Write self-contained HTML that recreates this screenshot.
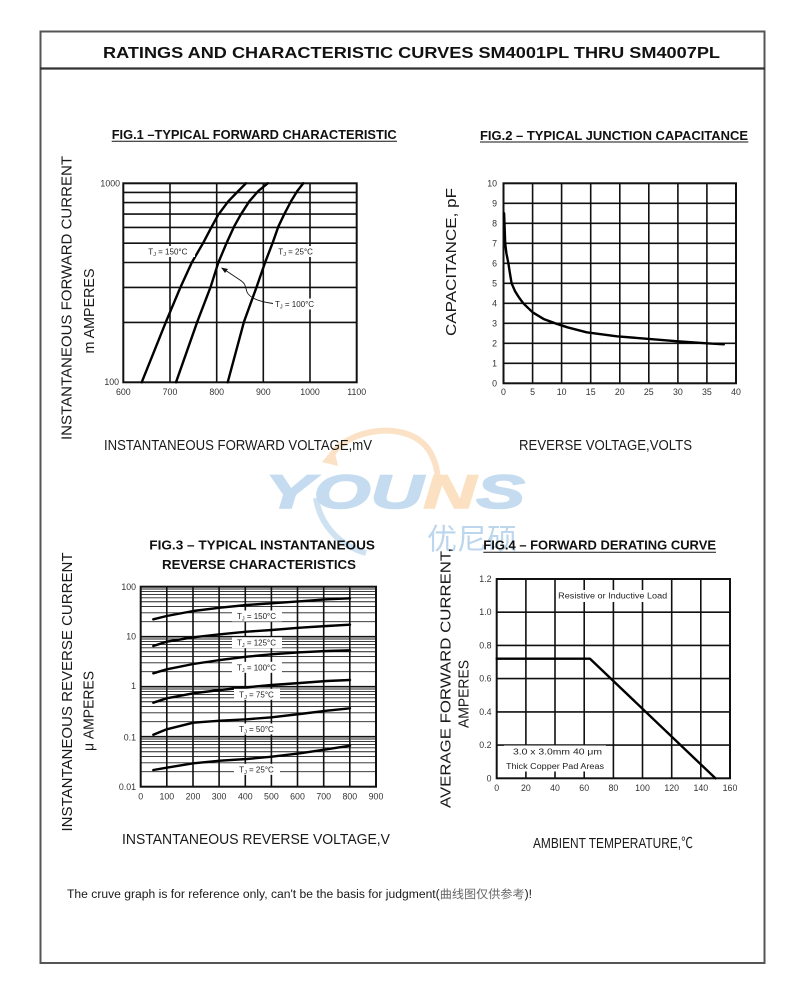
<!DOCTYPE html>
<html><head><meta charset="utf-8"><style>
html,body{margin:0;padding:0;background:#fff}
svg{display:block}
text{font-family:"Liberation Sans","Noto Sans CJK SC",sans-serif;fill:#111}
.t{font-size:8.8px;fill:#333}
.r{text-anchor:end}
.m{text-anchor:middle}
.g{stroke:#111;stroke-width:1.6;fill:none}
.gf{stroke:#222;stroke-width:0.9;fill:none}
.c{stroke:#000;stroke-width:2.4;fill:none;stroke-linejoin:round;stroke-linecap:round}
.ft{font-weight:bold;font-size:13px}
.al{font-size:14.5px;fill:#1a1a1a}
.lb{font-size:8px;fill:#222}
</style></head><body>
<svg width="790" height="988" viewBox="0 0 790 988" xmlns="http://www.w3.org/2000/svg">
<rect x="0" y="0" width="790" height="988" fill="#fff"/>
<!-- outer frame -->
<rect x="40.5" y="31.5" width="724" height="931.5" fill="none" stroke="#555" stroke-width="2"/>
<line x1="40" y1="68.5" x2="765" y2="68.5" stroke="#333" stroke-width="2.2"/>
<text x="103" y="57.8" font-size="15.5" font-weight="bold" textLength="617" lengthAdjust="spacingAndGlyphs">RATINGS AND CHARACTERISTIC CURVES SM4001PL THRU SM4007PL</text>

<!-- watermark -->
<g>
<path d="M330,458 C345,428 410,418 430,452 C437,464 439,478 437,492" stroke="#fbe2c6" stroke-width="6" fill="none"/>
<path d="M322,462 L334,448 L338,466 Z" fill="#fbe2c6"/>
<path d="M316,498 C320,524 338,545 366,553" stroke="#cfe2f2" stroke-width="6" fill="none"/>
<text x="265" y="508" font-size="47" font-weight="bold" font-style="italic" textLength="260" lengthAdjust="spacingAndGlyphs" stroke="#c4dbf0" stroke-width="1.5" style="fill:#c4dbf0"><tspan style="fill:#c4dbf0">YOU</tspan><tspan style="fill:#fbe0c2" stroke="#fbe0c2">N</tspan><tspan style="fill:#c4dbf0">S</tspan></text>
<text x="427" y="549" font-size="29" textLength="90" lengthAdjust="spacingAndGlyphs" style="fill:#bcd6ee;font-family:'Noto Sans CJK SC',sans-serif">优尼硕</text>
</g>

<!-- ================= FIG 1 ================= -->
<text x="111.7" y="138.8" class="ft" textLength="285" lengthAdjust="spacingAndGlyphs">FIG.1 –TYPICAL FORWARD CHARACTERISTIC</text>
<line x1="111.7" y1="141.3" x2="397" y2="141.3" stroke="#111" stroke-width="1"/>
<g class="g">
<line x1="170" y1="183.3" x2="170" y2="382.3"/>
<line x1="216.7" y1="183.3" x2="216.7" y2="382.3"/>
<line x1="263.3" y1="183.3" x2="263.3" y2="382.3"/>
<line x1="310" y1="183.3" x2="310" y2="382.3"/>
<line x1="123.3" y1="322.4" x2="356.7" y2="322.4"/>
<line x1="123.3" y1="287.4" x2="356.7" y2="287.4"/>
<line x1="123.3" y1="262.5" x2="356.7" y2="262.5"/>
<line x1="123.3" y1="243.2" x2="356.7" y2="243.2"/>
<line x1="123.3" y1="227.4" x2="356.7" y2="227.4"/>
<line x1="123.3" y1="214.1" x2="356.7" y2="214.1"/>
<line x1="123.3" y1="202.6" x2="356.7" y2="202.6"/>
<line x1="123.3" y1="192.4" x2="356.7" y2="192.4"/>
</g>
<rect x="123.3" y="183.3" width="233.4" height="199" fill="none" stroke="#111" stroke-width="2"/>
<polyline class="c" points="141.7,382.3 166,321.7 180.7,286.7 191.7,262.7 203.3,242.7 211.7,226.7 218.3,214.7 228.3,201.3 238.3,191 246,183.3"/>
<polyline class="c" points="176,382.3 197.3,321.7 210.7,286.7 218.3,262.7 226.7,242.7 234,226.7 240.7,214.7 249.3,201.3 258.3,191 267.7,183.3"/>
<polyline class="c" points="227.7,382.3 244,321.7 256.7,286.7 265,262.7 272.7,242.7 278.3,226.7 284,214.7 291,201.3 297.3,191 303.3,183.3"/>
<rect x="146" y="246" width="49" height="11" fill="#fff"/>
<text x="148.3" y="254.5" class="lb">T<tspan font-size="5.5" dy="1.5">J</tspan><tspan dy="-1.5"> = 150°C</tspan></text>
<rect x="276" y="246" width="44" height="11" fill="#fff"/>
<text x="278.3" y="254.5" class="lb">T<tspan font-size="5.5" dy="1.5">J</tspan><tspan dy="-1.5"> = 25°C</tspan></text>
<rect x="273" y="298.5" width="47" height="11" fill="#fff"/>
<text x="275" y="307" class="lb">T<tspan font-size="5.5" dy="1.5">J</tspan><tspan dy="-1.5"> = 100°C</tspan></text>
<path d="M273,303.5 C262,302 250,299 247,292 C245,286 246,284 240,280 L225,270" stroke="#111" stroke-width="0.9" fill="none"/>
<path d="M221,267.5 L228,269 L225,273 Z" fill="#111"/>
<text x="120" y="186.3" class="t r">1000</text>
<text x="119" y="384.8" class="t r">100</text>
<g>
<text x="123.3" y="395" class="t m">600</text>
<text x="170" y="395" class="t m">700</text>
<text x="216.7" y="395" class="t m">800</text>
<text x="263.3" y="395" class="t m">900</text>
<text x="310" y="395" class="t m">1000</text>
<text x="356.7" y="395" class="t m">1100</text>
</g>
<text x="71.5" y="298" class="al m" transform="rotate(-90 71.5 298)" textLength="284" lengthAdjust="spacingAndGlyphs">INSTANTANEOUS FORWARD CURRENT</text>
<text x="94" y="311" class="al m" transform="rotate(-90 94 311)" textLength="85" lengthAdjust="spacingAndGlyphs">m AMPERES</text>
<text x="104" y="450" class="al" textLength="268" lengthAdjust="spacingAndGlyphs">INSTANTANEOUS FORWARD VOLTAGE,mV</text>

<!-- ================= FIG 2 ================= -->
<text x="480" y="139.8" class="ft" textLength="268" lengthAdjust="spacingAndGlyphs">FIG.2 – TYPICAL JUNCTION CAPACITANCE</text>
<line x1="480" y1="142" x2="748.3" y2="142" stroke="#111" stroke-width="1"/>
<g class="g">
<line x1="532.6" y1="183.3" x2="532.6" y2="383.3"/>
<line x1="561.6" y1="183.3" x2="561.6" y2="383.3"/>
<line x1="590.7" y1="183.3" x2="590.7" y2="383.3"/>
<line x1="619.8" y1="183.3" x2="619.8" y2="383.3"/>
<line x1="648.8" y1="183.3" x2="648.8" y2="383.3"/>
<line x1="677.9" y1="183.3" x2="677.9" y2="383.3"/>
<line x1="706.9" y1="183.3" x2="706.9" y2="383.3"/>
<line x1="503.5" y1="203.3" x2="736" y2="203.3"/>
<line x1="503.5" y1="223.3" x2="736" y2="223.3"/>
<line x1="503.5" y1="243.3" x2="736" y2="243.3"/>
<line x1="503.5" y1="263.3" x2="736" y2="263.3"/>
<line x1="503.5" y1="283.3" x2="736" y2="283.3"/>
<line x1="503.5" y1="303.3" x2="736" y2="303.3"/>
<line x1="503.5" y1="323.3" x2="736" y2="323.3"/>
<line x1="503.5" y1="343.3" x2="736" y2="343.3"/>
<line x1="503.5" y1="363.3" x2="736" y2="363.3"/>
</g>
<rect x="503.5" y="183.3" width="232.5" height="200" fill="none" stroke="#111" stroke-width="2"/>
<polyline class="c" stroke-width="2" points="504.1,213.3 505.2,243.3 506.4,253.3 508.4,263.3 509.6,271.3 511.6,283.3 515.1,291.3 519,297.5 523.3,303.3 532.6,312.3 544.2,319.3 555.2,323.3 567.4,327.3 586.6,332.3 616.8,336.3 648.8,338.9 677.9,341.3 706.9,343.3 723.8,344.3"/>
<g>
<text x="497" y="186.3" class="t r">10</text>
<text x="497" y="206.3" class="t r">9</text>
<text x="497" y="226.3" class="t r">8</text>
<text x="497" y="246.3" class="t r">7</text>
<text x="497" y="266.3" class="t r">6</text>
<text x="497" y="286.3" class="t r">5</text>
<text x="497" y="306.3" class="t r">4</text>
<text x="497" y="326.3" class="t r">3</text>
<text x="497" y="346.3" class="t r">2</text>
<text x="497" y="366.3" class="t r">1</text>
<text x="497" y="386.3" class="t r">0</text>
<text x="503.5" y="395" class="t m">0</text>
<text x="532.6" y="395" class="t m">5</text>
<text x="561.6" y="395" class="t m">10</text>
<text x="590.7" y="395" class="t m">15</text>
<text x="619.8" y="395" class="t m">20</text>
<text x="648.8" y="395" class="t m">25</text>
<text x="677.9" y="395" class="t m">30</text>
<text x="706.9" y="395" class="t m">35</text>
<text x="736" y="395" class="t m">40</text>
</g>
<text x="456" y="262" class="al m" transform="rotate(-90 456 262)" textLength="148" lengthAdjust="spacingAndGlyphs">CAPACITANCE, pF</text>
<text x="519" y="450" class="al" textLength="173" lengthAdjust="spacingAndGlyphs">REVERSE VOLTAGE,VOLTS</text>

<!-- ================= FIG 3 ================= -->
<text x="149.3" y="549.7" class="ft" textLength="225.7" lengthAdjust="spacingAndGlyphs">FIG.3 – TYPICAL INSTANTANEOUS</text>
<text x="162" y="569" class="ft" textLength="194" lengthAdjust="spacingAndGlyphs">REVERSE CHARACTERISTICS</text>
<g class="gf">
<line x1="140.7" y1="771.65" x2="376" y2="771.65"/><line x1="140.7" y1="762.84" x2="376" y2="762.84"/><line x1="140.7" y1="756.6" x2="376" y2="756.6"/><line x1="140.7" y1="751.75" x2="376" y2="751.75"/><line x1="140.7" y1="747.79" x2="376" y2="747.79"/><line x1="140.7" y1="744.45" x2="376" y2="744.45"/><line x1="140.7" y1="741.55" x2="376" y2="741.55"/><line x1="140.7" y1="738.99" x2="376" y2="738.99"/>
<line x1="140.7" y1="721.65" x2="376" y2="721.65"/><line x1="140.7" y1="712.84" x2="376" y2="712.84"/><line x1="140.7" y1="706.6" x2="376" y2="706.6"/><line x1="140.7" y1="701.75" x2="376" y2="701.75"/><line x1="140.7" y1="697.79" x2="376" y2="697.79"/><line x1="140.7" y1="694.45" x2="376" y2="694.45"/><line x1="140.7" y1="691.55" x2="376" y2="691.55"/><line x1="140.7" y1="688.99" x2="376" y2="688.99"/>
<line x1="140.7" y1="671.65" x2="376" y2="671.65"/><line x1="140.7" y1="662.84" x2="376" y2="662.84"/><line x1="140.7" y1="656.6" x2="376" y2="656.6"/><line x1="140.7" y1="651.75" x2="376" y2="651.75"/><line x1="140.7" y1="647.79" x2="376" y2="647.79"/><line x1="140.7" y1="644.45" x2="376" y2="644.45"/><line x1="140.7" y1="641.55" x2="376" y2="641.55"/><line x1="140.7" y1="638.99" x2="376" y2="638.99"/>
<line x1="140.7" y1="621.65" x2="376" y2="621.65"/><line x1="140.7" y1="612.84" x2="376" y2="612.84"/><line x1="140.7" y1="606.6" x2="376" y2="606.6"/><line x1="140.7" y1="601.75" x2="376" y2="601.75"/><line x1="140.7" y1="597.79" x2="376" y2="597.79"/><line x1="140.7" y1="594.45" x2="376" y2="594.45"/><line x1="140.7" y1="591.55" x2="376" y2="591.55"/><line x1="140.7" y1="588.99" x2="376" y2="588.99"/>
</g>
<g class="g">
<line x1="140.7" y1="636.7" x2="376" y2="636.7"/>
<line x1="140.7" y1="686.7" x2="376" y2="686.7"/>
<line x1="140.7" y1="736.7" x2="376" y2="736.7"/>
<line x1="166.8" y1="586.7" x2="166.8" y2="786.7"/>
<line x1="193" y1="586.7" x2="193" y2="786.7"/>
<line x1="219.1" y1="586.7" x2="219.1" y2="786.7"/>
<line x1="245.3" y1="586.7" x2="245.3" y2="786.7"/>
<line x1="271.4" y1="586.7" x2="271.4" y2="786.7"/>
<line x1="297.5" y1="586.7" x2="297.5" y2="786.7"/>
<line x1="323.7" y1="586.7" x2="323.7" y2="786.7"/>
<line x1="349.8" y1="586.7" x2="349.8" y2="786.7"/>
</g>
<rect x="140.7" y="586.7" width="235.3" height="200" fill="none" stroke="#111" stroke-width="2"/>
<polyline class="c" stroke-width="2" points="153.3,619.3 166.7,616 193.3,611 220,607.7 246.7,605 271.7,603.3 300,601.3 326.7,599.3 350,598.3"/>
<polyline class="c" stroke-width="2" points="153.3,646 166.7,641.7 193.3,637.3 220,634.3 246.7,631.7 271.7,630 300,627.7 326.7,626 350,624.7"/>
<polyline class="c" stroke-width="2" points="153.3,673.3 166.7,669.3 193.3,664 220,660 246.7,656.7 271.7,654.3 300,652.3 326.7,651 350,650.3"/>
<polyline class="c" stroke-width="2" points="153.3,702.7 166.7,698.3 193.3,693.3 220,690 246.7,687.3 271.7,685 300,683 326.7,681 350,680"/>
<polyline class="c" stroke-width="2" points="153.3,734.7 166.7,729.3 193.3,722.7 220,720.7 246.7,719.3 271.7,717.3 300,714 326.7,710.7 350,708.3"/>
<polyline class="c" stroke-width="2" points="153.3,770 166.7,767.7 193.3,763.3 220,760.7 246.7,759 271.7,756.7 300,753.3 326.7,749.3 350,745.7"/>
<g>
<rect x="232" y="610.5" width="50" height="11" fill="#fff"/>
<text x="256.5" y="619" class="lb m">T<tspan font-size="5.5" dy="1.5">J</tspan><tspan dy="-1.5"> = 150°C</tspan></text>
<rect x="232" y="637.2" width="50" height="11" fill="#fff"/>
<text x="256.5" y="645.7" class="lb m">T<tspan font-size="5.5" dy="1.5">J</tspan><tspan dy="-1.5"> = 125°C</tspan></text>
<rect x="232" y="661.8" width="50" height="11" fill="#fff"/>
<text x="256.5" y="670.3" class="lb m">T<tspan font-size="5.5" dy="1.5">J</tspan><tspan dy="-1.5"> = 100°C</tspan></text>
<rect x="234" y="688.8" width="46" height="11" fill="#fff"/>
<text x="256.5" y="697.3" class="lb m">T<tspan font-size="5.5" dy="1.5">J</tspan><tspan dy="-1.5"> = 75°C</tspan></text>
<rect x="234" y="723.5" width="46" height="11" fill="#fff"/>
<text x="256.5" y="732" class="lb m">T<tspan font-size="5.5" dy="1.5">J</tspan><tspan dy="-1.5"> = 50°C</tspan></text>
<rect x="234" y="763.8" width="46" height="11" fill="#fff"/>
<text x="256.5" y="772.3" class="lb m">T<tspan font-size="5.5" dy="1.5">J</tspan><tspan dy="-1.5"> = 25°C</tspan></text>
</g>
<g>
<text x="136" y="590" class="t r">100</text>
<text x="136" y="639.5" class="t r">10</text>
<text x="136" y="689" class="t r">1</text>
<text x="136" y="740.5" class="t r">0.1</text>
<text x="136" y="790" class="t r">0.01</text>
<text x="140.7" y="799.5" class="t m">0</text>
<text x="166.8" y="799.5" class="t m">100</text>
<text x="193" y="799.5" class="t m">200</text>
<text x="219.1" y="799.5" class="t m">300</text>
<text x="245.3" y="799.5" class="t m">400</text>
<text x="271.4" y="799.5" class="t m">500</text>
<text x="297.5" y="799.5" class="t m">600</text>
<text x="323.7" y="799.5" class="t m">700</text>
<text x="349.8" y="799.5" class="t m">800</text>
<text x="376" y="799.5" class="t m">900</text>
</g>
<text x="72" y="692" class="al m" transform="rotate(-90 72 692)" textLength="279" lengthAdjust="spacingAndGlyphs">INSTANTANEOUS REVERSE CURRENT</text>
<text x="93.5" y="711" class="al m" transform="rotate(-90 93.5 711)" textLength="80" lengthAdjust="spacingAndGlyphs">μ AMPERES</text>
<text x="122" y="844" class="al" textLength="268" lengthAdjust="spacingAndGlyphs">INSTANTANEOUS REVERSE VOLTAGE,V</text>

<!-- ================= FIG 4 ================= -->
<text x="483.3" y="549.7" class="ft" textLength="232.7" lengthAdjust="spacingAndGlyphs">FIG.4 – FORWARD DERATING CURVE</text>
<line x1="483.3" y1="552.3" x2="716" y2="552.3" stroke="#111" stroke-width="1"/>
<g class="g">
<line x1="525.9" y1="579" x2="525.9" y2="778.3"/>
<line x1="555" y1="579" x2="555" y2="778.3"/>
<line x1="584.2" y1="579" x2="584.2" y2="778.3"/>
<line x1="613.4" y1="579" x2="613.4" y2="778.3"/>
<line x1="642.5" y1="579" x2="642.5" y2="778.3"/>
<line x1="671.7" y1="579" x2="671.7" y2="778.3"/>
<line x1="700.8" y1="579" x2="700.8" y2="778.3"/>
<line x1="496.7" y1="745.1" x2="730" y2="745.1"/>
<line x1="496.7" y1="711.9" x2="730" y2="711.9"/>
<line x1="496.7" y1="678.6" x2="730" y2="678.6"/>
<line x1="496.7" y1="645.4" x2="730" y2="645.4"/>
<line x1="496.7" y1="612.2" x2="730" y2="612.2"/>
</g>
<rect x="496.7" y="579" width="233.3" height="199.3" fill="none" stroke="#111" stroke-width="2"/>
<rect x="556" y="590" width="114" height="12" fill="#fff"/>
<text x="612.7" y="598.7" class="lb m" textLength="109" lengthAdjust="spacingAndGlyphs">Resistive or Inductive Load</text>
<rect x="504" y="745.5" width="102" height="26" fill="#fff"/>
<text x="513" y="754.7" class="lb" textLength="89" lengthAdjust="spacingAndGlyphs">3.0 x 3.0mm    40 μm</text>
<text x="506" y="769" class="lb" textLength="98" lengthAdjust="spacingAndGlyphs">Thick Copper Pad Areas</text>
<polyline class="c" stroke-width="2" points="496.7,658.7 590,658.7 715.4,778.3"/>
<g>
<text x="491.5" y="582" class="t r">1.2</text>
<text x="491.5" y="615.2" class="t r">1.0</text>
<text x="491.5" y="648.4" class="t r">0.8</text>
<text x="491.5" y="681.6" class="t r">0.6</text>
<text x="491.5" y="714.9" class="t r">0.4</text>
<text x="491.5" y="748.1" class="t r">0.2</text>
<text x="491.5" y="781.3" class="t r">0</text>
<text x="496.7" y="791" class="t m">0</text>
<text x="525.9" y="791" class="t m">20</text>
<text x="555" y="791" class="t m">40</text>
<text x="584.2" y="791" class="t m">60</text>
<text x="613.4" y="791" class="t m">80</text>
<text x="642.5" y="791" class="t m">100</text>
<text x="671.7" y="791" class="t m">120</text>
<text x="700.8" y="791" class="t m">140</text>
<text x="730" y="791" class="t m">160</text>
</g>
<text x="450.5" y="678" class="al m" transform="rotate(-90 450.5 678)" textLength="260" lengthAdjust="spacingAndGlyphs">AVERAGE FORWARD CURRENT,</text>
<text x="468.5" y="694" class="al m" transform="rotate(-90 468.5 694)" textLength="68" lengthAdjust="spacingAndGlyphs">AMPERES</text>
<text x="533" y="848" class="al" textLength="160" lengthAdjust="spacingAndGlyphs">AMBIENT TEMPERATURE,℃</text>

<!-- footer -->
<text x="67" y="898" font-size="11.5" textLength="465" lengthAdjust="spacingAndGlyphs" style="fill:#1a1a1a">The cruve graph is for reference only, can't be the basis for judgment(<tspan style="fill:#666">曲线图仅供参考</tspan>)!</text>
</svg>
</body></html>
